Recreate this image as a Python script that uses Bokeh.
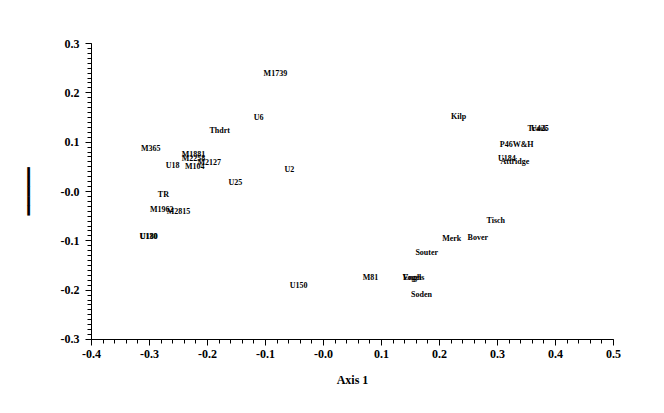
from bokeh.plotting import figure
from bokeh.models import ColumnDataSource, Range1d, SingleIntervalTicker, CustomJSTickFormatter
from bokeh.core.properties import value
from bokeh.embed import file_html
from bokeh.resources import INLINE

# ---- data ----
names = ["M1739", "U6", "Thdrt", "Kilp", "Trask", "U425", "P46W&H", "U184", "Attridge",
         "M365", "M1881", "M2258", "M2127", "U18", "M104", "U2", "U25", "TR",
         "M1962", "M2815", "U130", "U180", "Tisch", "Merk", "Bover", "Souter",
         "M81", "Vogels", "Engh", "Soden", "U150"]
axis1 = [-0.083, -0.112, -0.179, 0.233, 0.369, 0.373, 0.333, 0.316, 0.330,
         -0.298, -0.224, -0.224, -0.197, -0.260, -0.222, -0.059, -0.152, -0.276,
         -0.279, -0.250, -0.302, -0.301, 0.297, 0.221, 0.266, 0.178,
         0.081, 0.155, 0.153, 0.169, -0.043]
axis2 = [0.239, 0.150, 0.124, 0.152, 0.128, 0.128, 0.095, 0.067, 0.061,
         0.087, 0.075, 0.067, 0.059, 0.053, 0.051, 0.045, 0.018, -0.006,
         -0.037, -0.041, -0.091, -0.091, -0.059, -0.095, -0.093, -0.124,
         -0.174, -0.174, -0.174, -0.209, -0.191]

x_start, x_end, x_step, x_minor_n = -0.4, 0.5, 0.1, 5
y_start, y_end, y_step, y_minor_n = -0.3, 0.3, 0.1, 10

src = ColumnDataSource(dict(name=names, ax1=axis1, ax2=axis2))

eps = 1e-7
p = figure(output_backend="svg", toolbar_location=None,
           x_range=Range1d(x_start - eps, x_end + eps),
           y_range=Range1d(y_start - eps, y_end + eps),
           frame_width=522, frame_height=296,
           min_border_left=91, min_border_right=40,
           min_border_top=43, min_border_bottom=60)
p.outline_line_color = None
p.grid.visible = False
p.background_fill_color = "white"
p.border_fill_color = "white"

p.text(x="ax1", y="ax2", text="name", source=src,
       text_align="center", text_baseline="middle",
       text_font=value("Liberation Serif"), text_font_size="8px",
       text_font_style="bold", text_color="black")

fmt = CustomJSTickFormatter(code="return Math.abs(tick) < 1e-9 ? '-0.0' : tick.toFixed(1);")

xa = p.xaxis[0]
xa.ticker = SingleIntervalTicker(interval=x_step, num_minor_ticks=x_minor_n)
xa.formatter = fmt
xa.axis_label = "Axis 1"
ya = p.yaxis[0]
ya.ticker = SingleIntervalTicker(interval=y_step, num_minor_ticks=y_minor_n)
ya.formatter = fmt
ya.axis_label = "━━━━━"

for ax in (xa, ya):
    ax.axis_line_color = "black"
    ax.axis_line_width = 1
    ax.major_tick_line_color = "black"
    ax.minor_tick_line_color = "black"
    ax.major_tick_line_width = 1
    ax.minor_tick_line_width = 1
    ax.major_tick_in = 0
    ax.major_tick_out = 6
    ax.minor_tick_in = 0
    ax.minor_tick_out = 4
    ax.major_label_text_font = "Liberation Serif"
    ax.major_label_text_font_style = "bold"
    ax.major_label_text_font_size = "12px"
    ax.major_label_text_color = "black"

xa.major_label_standoff = 4
xa.axis_label_text_font = "Liberation Serif"
xa.axis_label_text_font_style = "bold"
xa.axis_label_text_font_size = "12px"
xa.axis_label_text_color = "black"
xa.axis_label_standoff = 12

ya.major_label_standoff = 6
ya.axis_label_text_font = "DejaVu Sans Mono"
ya.axis_label_text_font_style = "normal"
ya.axis_label_text_font_size = "16px"
ya.axis_label_text_color = "black"
ya.axis_label_standoff = 20

open("out.html", "w").write(file_html(p, INLINE))
